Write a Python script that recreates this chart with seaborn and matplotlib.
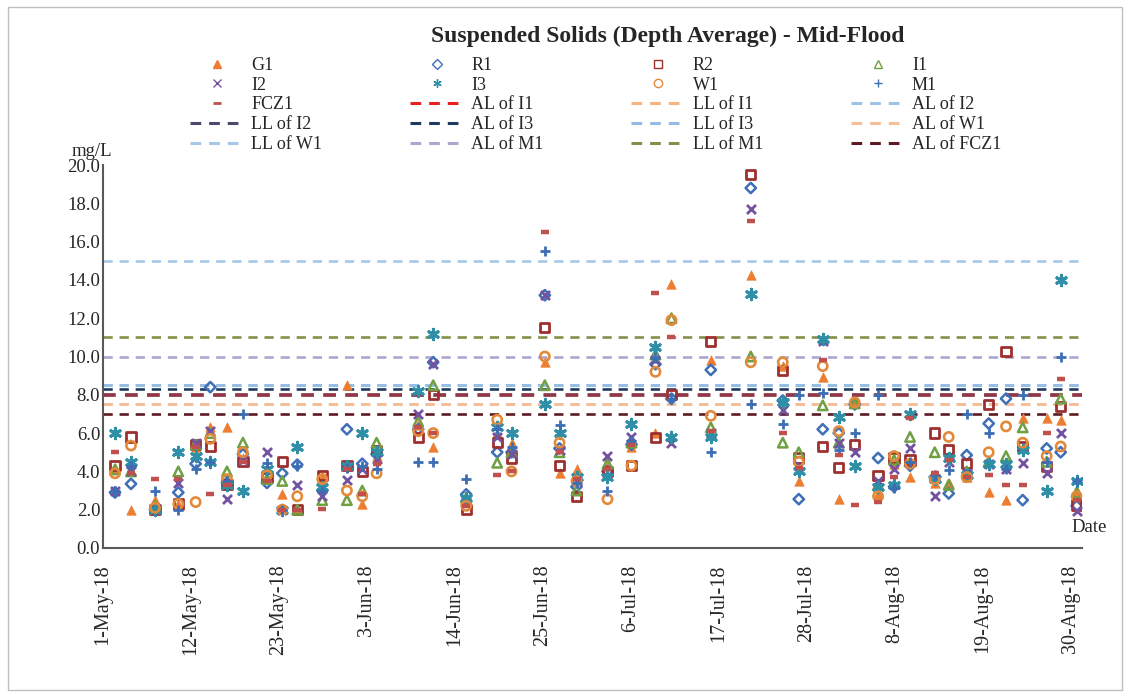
import matplotlib
matplotlib.use('Agg')
import matplotlib.pyplot as plt
import matplotlib.dates as mdates
from matplotlib.lines import Line2D
from matplotlib.patches import Rectangle
import pandas as pd
import seaborn as sns

# sampling dates (mid-flood)
DATES = ['2018-05-02 12:00', '2018-05-04 12:00', '2018-05-07 12:00', '2018-05-10 10:00',
         '2018-05-12 14:00', '2018-05-14 10:00', '2018-05-16 12:00', '2018-05-18 12:00',
         '2018-05-21 12:00', '2018-05-23 10:00', '2018-05-25 07:00', '2018-05-28 10:00',
         '2018-05-31 12:00', '2018-06-02 10:00', '2018-06-04 05:00', '2018-06-09 10:00',
         '2018-06-11 07:00', '2018-06-15 10:00', '2018-06-19 07:00', '2018-06-21 02:00',
         '2018-06-25 06:00', '2018-06-27 02:00', '2018-06-29 05:00', '2018-07-03 02:00',
         '2018-07-06 02:00', '2018-07-09 02:00', '2018-07-11 02:00', '2018-07-16 00:00',
         '2018-07-21 00:00', '2018-07-25 00:00', '2018-07-27 00:00', '2018-07-30 00:00',
         '2018-08-01 00:00', '2018-08-03 00:00', '2018-08-05 22:00', '2018-08-07 22:00',
         '2018-08-09 22:00', '2018-08-13 00:00', '2018-08-14 18:00', '2018-08-17 00:00',
         '2018-08-19 18:00', '2018-08-21 22:00', '2018-08-24 00:00', '2018-08-27 00:00',
         '2018-08-28 18:00', '2018-08-30 18:00']

G1 = [4.2, 2.0, 2.5, 2.3, 5.3, 6.3, 6.3, 4.7, 3.7, 2.8, 2.0, 3.7, 8.5, 2.3, 4.8, 6.4, 5.3, 2.5, 6.0, 5.5,
      9.7, 3.9, 4.1, 4.3, 5.3, 6.0, 13.8, 9.8, 14.25, 9.5, 3.5, 8.95, 2.55, 7.6, 2.8, 4.4, 3.7, 3.4, 3.4, 3.7,
      2.95, 2.5, 6.8, 6.8, 6.7, 3.0]
R1 = [2.9, 3.35, 2.0, 2.9, 4.4, 8.4, 3.4, 4.9, 3.4, 3.9, 4.35, 3.0, 6.2, 4.4, 4.9, 6.2, 9.7, 2.8, 5.0, 5.0,
      13.2, 5.2, 3.2, 4.0, 5.4, 9.6, 7.8, 9.3, 18.8, 7.7, 2.55, 6.2, 6.0, 7.5, 4.7, 3.2, 4.3, 3.7, 2.85, 4.85,
      6.5, 7.8, 2.5, 5.2, 5.0, 2.2]
R2 = [4.3, 5.8, 2.0, 2.3, 5.4, 5.3, 3.3, 4.5, 3.7, 4.5, 2.0, 3.8, 4.3, 4.0, 5.1, 5.75, 8.0, 2.0, 5.5, 4.7,
      11.5, 4.3, 2.7, 4.0, 4.3, 5.75, 8.0, 10.8, 19.5, 9.25, 4.7, 5.3, 4.2, 5.4, 3.8, 4.7, 4.6, 6.0, 5.15, 4.4,
      7.5, 10.25, 5.3, 4.25, 7.4, 2.25]
I1 = [4.1, 4.0, 2.2, 4.0, 5.4, 6.0, 4.0, 5.5, 3.6, 3.5, 2.0, 2.5, 2.5, 3.0, 5.5, 6.6, 8.5, 2.6, 4.45, 5.0,
      8.5, 5.0, 3.0, 4.4, 5.5, 10.1, 12.0, 6.3, 10.0, 5.5, 5.0, 7.45, 5.5, 7.55, 3.3, 4.6, 5.8, 5.0, 3.3, 4.0,
      4.5, 4.8, 6.3, 4.5, 7.8, 2.9]
I2 = [3.0, 4.0, 2.1, 3.4, 5.5, 6.1, 2.55, 4.6, 5.0, 2.0, 3.3, 2.7, 3.55, 4.1, 4.65, 7.0, 9.6, 2.4, 5.8, 4.9,
      13.2, 5.1, 3.5, 4.8, 5.8, 9.8, 5.5, 6.0, 17.7, 7.2, 4.3, 10.8, 5.5, 5.0, 3.5, 4.1, 5.2, 2.7, 4.5, 3.9,
      4.4, 4.1, 4.45, 3.9, 6.0, 1.95]
I3 = [6.0, 4.5, 2.0, 5.0, 4.8, 4.5, 3.3, 3.0, 4.1, 2.0, 5.3, 3.2, 4.3, 6.0, 5.0, 8.2, 11.2, 2.6, 6.3, 6.0,
      7.5, 6.0, 3.7, 3.7, 6.5, 10.5, 5.8, 5.8, 13.25, 7.6, 4.0, 10.9, 6.85, 4.3, 3.2, 3.3, 7.0, 3.6, 4.7, 3.8,
      4.4, 4.4, 5.1, 3.0, 14.0, 3.5]
W1 = [3.9, 5.35, 2.1, 2.3, 2.4, 5.7, 3.6, 5.0, 3.8, 2.0, 2.7, 3.6, 3.0, 2.7, 3.9, 6.1, 6.0, 2.2, 6.7, 4.0,
      10.0, 5.5, 3.5, 2.55, 4.3, 9.2, 11.9, 6.9, 9.7, 9.7, 4.5, 9.5, 6.1, 7.6, 2.7, 4.8, 4.4, 3.6, 5.8, 3.7,
      5.0, 6.35, 5.5, 4.8, 5.3, 2.7]
M1 = [3.0, 4.3, 3.0, 2.0, 4.1, 4.5, 3.5, 7.0, 4.45, 2.0, 4.3, 3.0, 4.2, 4.3, 4.1, 4.5, 4.5, 3.6, 6.2, 5.3,
      15.5, 6.4, 3.4, 3.0, 5.6, 9.9, 7.8, 5.0, 7.5, 6.45, 8.0, 8.1, 5.1, 6.0, 8.0, 3.15, 4.5, 3.8, 4.05, 7.0,
      6.0, 4.1, 8.0, 4.5, 10.0, 3.5]
FCZ1 = [5.0, 3.9, 3.6, 3.6, 5.3, 2.8, 3.3, 4.5, 3.5, 2.0, 2.0, 2.05, 4.1, 2.8, 4.4, 6.3, 6.0, 2.2, 3.8, 4.0,
        16.5, 5.0, 3.6, 4.1, 5.4, 13.3, 11.0, 6.1, 17.05, 6.0, 4.2, 9.8, 4.85, 2.25, 2.4, 3.7, 6.8, 3.9, 4.6, 3.7,
        3.8, 3.3, 3.3, 6.0, 8.8, 2.5]

STATIONS = ['G1', 'R1', 'R2', 'I1', 'I2', 'I3', 'W1', 'M1', 'FCZ1']
VALUES = [G1, R1, R2, I1, I2, I3, W1, M1, FCZ1]

# action / limit levels (mg/L)
LIMIT_NAMES = ['AL of I1', 'LL of I1', 'AL of I2', 'LL of I2', 'AL of I3', 'LL of I3',
               'AL of W1', 'LL of W1', 'AL of M1', 'LL of M1', 'AL of FCZ1']
LIMIT_LEVELS = [8.0, 7.5, 8.5, 8.0, 8.3, 8.5, 7.5, 15.0, 10.0, 11.0, 7.0]

# marker styles: marker, color, hollow, size, edge width
MARKERS = {
    'G1': ('^', '#ED7D31', False, 46, 0.5),
    'R1': ('D', '#3F6FB6', True, 28, 1.8),
    'R2': ('s', '#9E2F2F', True, 44, 2.0),
    'I1': ('^', '#6FA043', True, 46, 1.8),
    'I2': ('x', '#7352A0', False, 42, 2.0),
    'I3': ((6, 2, 0), '#2E8FA6', False, 56, 2.2),
    'W1': ('o', '#E38A3A', True, 44, 1.9),
    'M1': ('+', '#3C6EB4', False, 48, 2.0),
    'FCZ1': ('_', '#C0504D', False, 32, 3.2),
}
LINE_COLORS = {
    'AL of I1': '#E8211E', 'LL of I1': '#F5B482', 'AL of I2': '#9CC2E5', 'LL of I2': '#4A4A6A',
    'AL of I3': '#1F3A60', 'LL of I3': '#93BBE3', 'AL of W1': '#F4BE98', 'LL of W1': '#A6C8E8',
    'AL of M1': '#ADA6CF', 'LL of M1': '#858F48', 'AL of FCZ1': '#5C1A22',
}
DASH = (0, (3.5, 2.6))

sns.set_style('white')
plt.rcParams['font.family'] = ['Liberation Serif', 'DejaVu Serif']

fig = plt.figure(figsize=(11.3, 6.97), dpi=100)
W, H = 1130, 697
ax = fig.add_axes([103 / W, 1 - 548 / H, (1082 - 103) / W, (548 - 165) / H])

dates = pd.to_datetime(DATES)

# horizontal limit lines
draw_order = ['LL of W1', 'LL of M1', 'AL of M1', 'AL of I2', 'LL of I3', 'AL of I3',
              'LL of I2', 'AL of I1', 'LL of I1', 'AL of W1', 'AL of FCZ1']
for name in draw_order:
    lvl = LIMIT_LEVELS[LIMIT_NAMES.index(name)]
    alpha = 0.45 if name == 'AL of I1' else 1.0
    lw = 2.6 if name in ('AL of I1', 'LL of I2') else 1.9
    ax.axhline(lvl, color=LINE_COLORS[name], lw=lw, ls=DASH, alpha=alpha, zorder=1)

# station scatter
for name, vals in zip(STATIONS, VALUES):
    m, c, hollow, s, lw = MARKERS[name]
    kw = dict(x=dates, y=vals, marker=m, s=s, ax=ax, zorder=3, legend=False)
    if hollow:
        sns.scatterplot(color=c, facecolor='none', edgecolor=c, linewidth=lw, **kw)
    elif m in ('^',):
        sns.scatterplot(color=c, edgecolor=c, linewidth=lw, **kw)
    else:
        sns.scatterplot(color=c, linewidth=lw, **kw)

ax.set_ylim(0, 20)
ax.set_yticks(range(0, 21, 2))
ax.set_yticklabels(['%.1f' % v for v in range(0, 21, 2)])
ax.set_xlim(pd.Timestamp('2018-05-01'), pd.Timestamp('2018-08-31 10:00'))
ax.set_xticks(pd.date_range('2018-05-01', '2018-08-30', freq='11D'))
ax.xaxis.set_major_formatter(mdates.DateFormatter('%-d-%b-%y'))
ax.tick_params(axis='x', rotation=90, direction='in', length=5, color='#595959',
               labelsize=14.5, pad=12)
ax.tick_params(axis='y', direction='in', length=5, color='#595959', labelsize=13.5, pad=2)
ax.set_xlabel('')
ax.set_ylabel('')
for side in ('top', 'right'):
    ax.spines[side].set_visible(False)
for side in ('left', 'bottom'):
    ax.spines[side].set_color('#595959')
    ax.spines[side].set_linewidth(1.5)

fig.text(72 / W, 1 - 151 / H, 'mg/L', fontsize=13.5, va='center')
fig.text(1071 / W, 1 - 528 / H, 'Date', fontsize=13.5, va='center')
fig.text(668 / W, 1 - 36 / H, 'Suspended Solids (Depth Average) - Mid-Flood',
         fontsize=17, fontweight='bold', ha='center', va='center')

# legend, row-major like the original
handles, labels = [], []
for name in STATIONS:
    m, c, hollow, s, lw = MARKERS[name]
    handles.append(Line2D([], [], ls='none', marker=m, markersize=6 if name != 'R1' else 5,
                          markerfacecolor='none' if hollow else c, markeredgecolor=c,
                          markeredgewidth=1.0 if name != 'FCZ1' else 2.0))
    labels.append(name)
for name in LIMIT_NAMES:
    handles.append(Line2D([], [], color=LINE_COLORS[name], lw=2.2, ls=DASH))
    labels.append(name)
order = [i * 4 + j for j in range(4) for i in range(5)]
fig.legend([handles[k] for k in order], [labels[k] for k in order], ncol=4,
           loc='upper left', bbox_to_anchor=(190 / W, 1 - 57 / H), frameon=False,
           fontsize=13, handlelength=3.0, handletextpad=0.4, columnspacing=4.85,
           labelspacing=0.15, borderpad=0, borderaxespad=0)

fig.add_artist(Rectangle((8 / W, 7 / H), (1122 - 8) / W, (690 - 7) / H,
                         transform=fig.transFigure, fill=False, edgecolor='#BFBFBF', lw=1))

fig.savefig('out.png', dpi=100)
